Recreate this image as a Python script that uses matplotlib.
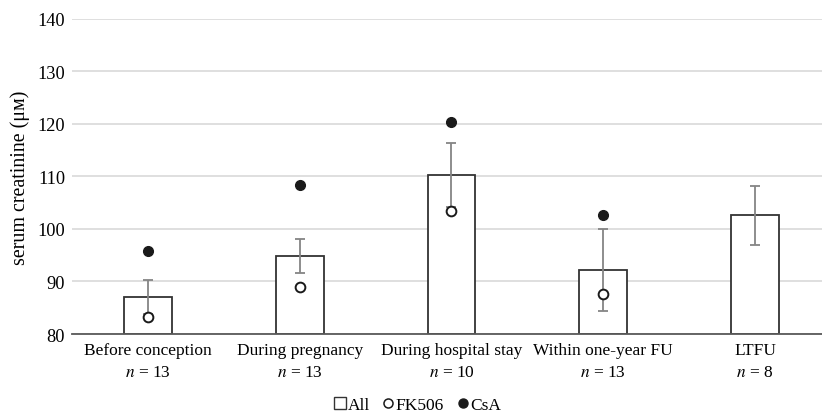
import numpy as np
import matplotlib
matplotlib.use("Agg")
import matplotlib.pyplot as plt
from matplotlib.lines import Line2D

plt.rcParams['font.family'] = ['Liberation Serif', 'DejaVu Serif']
plt.rcParams['mathtext.fontset'] = 'stix'

# data
categories = ['Before conception', 'During pregnancy', 'During hospital stay',
              'Within one-year FU', 'LTFU']
n_counts = [13, 13, 10, 13, 8]
all_mean = [87.1, 94.9, 110.3, 92.25, 102.6]
all_err = [3.2, 3.2, 6.1, 7.8, 5.6]
fk506 = [83.2, 88.9, 103.5, 87.7, np.nan]
csa = [95.8, 108.4, 120.4, 102.7, np.nan]

x = np.arange(len(categories))

fig = plt.figure(figsize=(8.22, 4.14), dpi=100)
ax = fig.add_axes([0.0876, 0.1908, 0.9124, 0.761])

ax.bar(x, [m - 80 for m in all_mean], bottom=80, width=0.314, color='white',
       edgecolor='#333333', linewidth=1.3, zorder=2)
ax.errorbar(x, all_mean, yerr=all_err, fmt='none', ecolor='#858585',
            elinewidth=1.3, capsize=3.5, capthick=1.3, zorder=3)
ax.plot(x, fk506, 'o', ms=7, mfc='white', mec='#1a1a1a', mew=1.4, zorder=4)
ax.plot(x, csa, 'o', ms=7, mfc='#1a1a1a', mec='#1a1a1a', zorder=4)

ax.set_ylim(80, 140)
ax.set_yticks(range(80, 141, 10))
ax.set_xlim(-0.5, 4.441)
ax.set_xticks(x)
ax.set_xticklabels([f'{c}\n$n$ = {n}' for c, n in zip(categories, n_counts)],
                   fontsize=12.5, linespacing=1.45)
ax.tick_params(axis='both', length=0)
ax.tick_params(axis='x', pad=6)
ax.tick_params(axis='y', pad=5, labelsize=13.2)
ax.yaxis.grid(True, color='#d9d9d9', linewidth=1.2, zorder=0)
ax.set_axisbelow(True)
for side in ['top', 'right', 'left']:
    ax.spines[side].set_visible(False)
ax.spines['bottom'].set_color('#595959')
ax.spines['bottom'].set_linewidth(1.3)
ax.spines['bottom'].set_zorder(5)

ax.set_ylabel('serum creatinine (\u03bc\u1d0d)', fontsize=14.4, labelpad=5)

handles = [
    Line2D([], [], marker='s', ls='none', ms=8, mfc='white', mec='#333333', mew=1.0),
    Line2D([], [], marker='o', ls='none', ms=6.5, mfc='white', mec='#1a1a1a', mew=1.1),
    Line2D([], [], marker='o', ls='none', ms=6.5, mfc='#1a1a1a', mec='#1a1a1a'),
]
fig.legend(handles, ['All', 'FK506', 'CsA'], loc='center', ncol=3,
           bbox_to_anchor=(418 / 822, 1 - 406 / 414), frameon=False,
           fontsize=12.5, handlelength=0.55, handletextpad=0.15,
           columnspacing=0.8, borderpad=0)

fig.savefig('out.png', dpi=100)
